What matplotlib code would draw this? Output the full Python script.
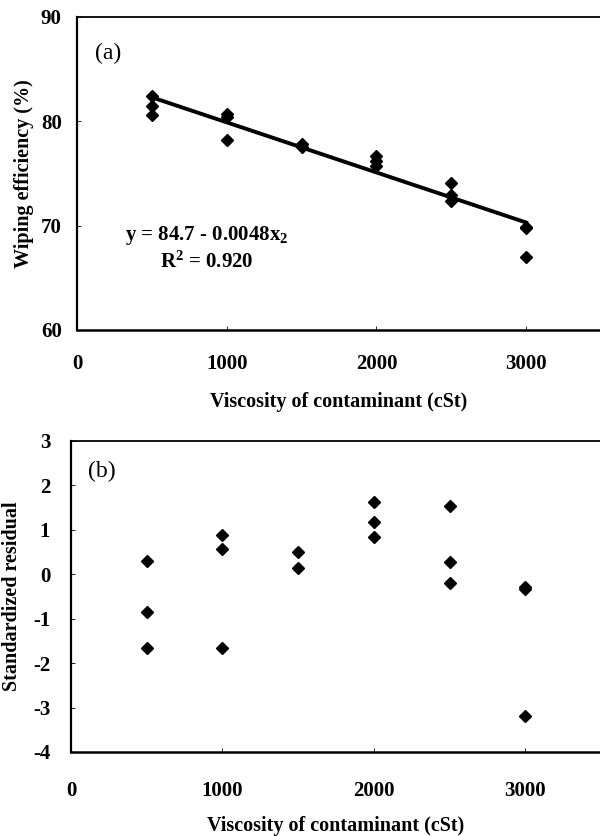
import matplotlib
matplotlib.use("Agg")
import matplotlib.pyplot as plt
import numpy as np

# --- Data ------------------------------------------------------------------
viscosity = [500, 500, 500,
             1000, 1000, 1000,
             1500, 1500,
             2000, 2000, 2000,
             2500, 2500, 2500,
             3000, 3000, 3000]
efficiency = [82.45, 81.47, 80.6,
              80.7, 80.4, 78.2,
              77.85, 77.55,
              76.65, 76.15, 75.75,
              74.05, 72.95, 72.4,
              69.9, 69.8, 67.0]
std_residual = [0.29, -0.86, -1.65,
                0.89, 0.56, -1.66,
                0.50, 0.14,
                1.62, 1.17, 0.85,
                1.53, 0.27, -0.19,
                -0.28, -0.33, -3.2]

fit_intercept = 84.7
fit_slope = -0.0048
fit_range = [500, 3000]

x_ticks = [0, 1000, 2000, 3000]
eff_ticks = [60, 70, 80, 90]
res_ticks = [-4, -3, -2, -1, 0, 1, 2, 3]

SERIF = "Liberation Serif"
plt.rcParams["font.family"] = SERIF
plt.rcParams["axes.unicode_minus"] = False
plt.rcParams["mathtext.fontset"] = "custom"
plt.rcParams["mathtext.rm"] = SERIF + ":bold"
plt.rcParams["mathtext.bf"] = SERIF + ":bold"
plt.rcParams["mathtext.default"] = "bf"

TICK_FS = 15
LABEL_FS = 14.5


def style_axes(ax, xpad, ypad):
    ax.spines["right"].set_visible(False)
    ax.spines["left"].set_linewidth(1.6)
    ax.spines["bottom"].set_linewidth(1.8)
    ax.spines["top"].set_linewidth(1.3)
    ax.tick_params(direction="in", length=3, width=0.6, labelsize=TICK_FS)
    ax.tick_params(axis="x", pad=xpad)
    ax.tick_params(axis="y", pad=ypad)
    for lab in ax.get_xticklabels() + ax.get_yticklabels():
        lab.set_fontweight("bold")


fig = plt.figure(figsize=(6.0, 8.36), dpi=100)

# --- (a) wiping efficiency ---
ax1 = fig.add_axes([0.1283, 0.6053, 0.8733, 0.3744])
ax1.plot(viscosity, efficiency, linestyle="none", marker="D",
         markersize=6.3, color="black")
fx = np.array(fit_range)
ax1.plot(fx, fit_intercept + fit_slope * fx, color="black", linewidth=2.8)
ax1.set_xlim(0, 3500)
ax1.set_ylim(60, 90)
ax1.set_xticks(x_ticks)
ax1.set_yticks(eff_ticks)
style_axes(ax1, xpad=17, ypad=11)
ax1.set_xlabel("Viscosity of contaminant (cSt)", fontsize=LABEL_FS,
               fontweight="bold", labelpad=13)
ax1.set_ylabel("Wiping efficiency (%)", fontsize=LABEL_FS,
               fontweight="bold", labelpad=5)
ax1.text(868, 69.1, r"y = 84.7 - 0.0048x$_{2}$", ha="center", va="center",
         fontsize=15, fontweight="bold")
ax1.text(868, 66.5, r"R$^{2}$ = 0.920", ha="center", va="center",
         fontsize=15, fontweight="bold")
ax1.text(120, 86.5, "(a)", ha="left", va="center", fontsize=17)

# --- (b) standardized residuals ---
ax2 = fig.add_axes([0.1183, 0.1005, 0.8833, 0.372])
ax2.plot(viscosity, std_residual, linestyle="none", marker="D",
         markersize=6.3, color="black")
ax2.set_xlim(0, 3500)
ax2.set_ylim(-4, 3)
ax2.set_xticks(x_ticks)
ax2.set_yticks(res_ticks)
style_axes(ax2, xpad=21, ypad=15)
ax2.set_xlabel("Viscosity of contaminant (cSt)", fontsize=LABEL_FS,
               fontweight="bold", labelpad=11)
ax2.set_ylabel("Standardized residual", fontsize=LABEL_FS,
               fontweight="bold", labelpad=8)
ax2.text(110, 2.32, "(b)", ha="left", va="center", fontsize=17)

fig.savefig("out.png", dpi=100)
